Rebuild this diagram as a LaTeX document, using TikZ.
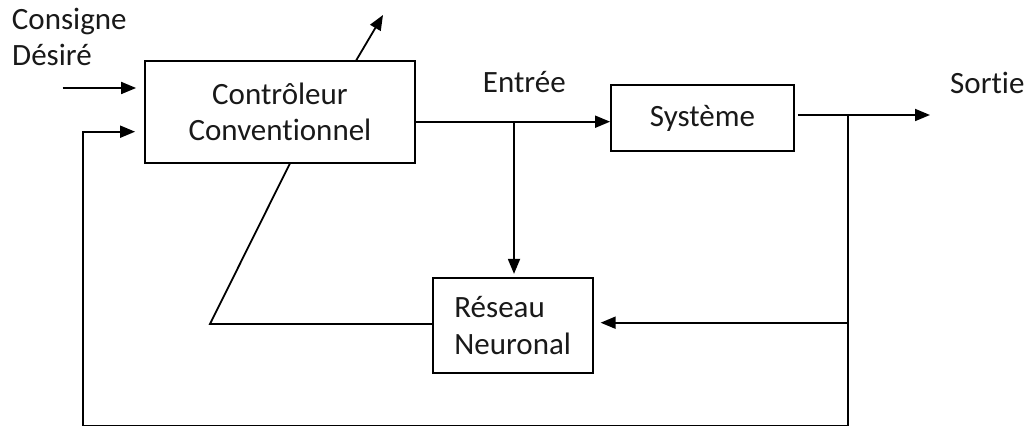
\documentclass[tikz,border=0pt]{standalone}
\usepackage{fontspec}
\setmainfont{Carlito}[Ligatures=NoCommon]
\usetikzlibrary{arrows.meta}
\begin{document}
\begin{tikzpicture}[x=1pt,y=-1pt,
  txt/.style={font=\fontsize{31}{36.5}\selectfont, text=black!90},
  blk/.style={draw, line width=1.8pt, inner sep=0pt, txt},
  wire/.style={line width=1.8pt},
  arr/.style={wire, -{Triangle[length=15pt,width=12pt]}},
  lbl/.style={txt, inner sep=0pt, anchor=base west}]
\useasboundingbox (0,0) rectangle (1028,427);

% blocks
\node[blk, minimum width=270pt, minimum height=102pt, align=center] (ctrl) at (280,112) {Contrôleur\\Conventionnel};
\node[blk, minimum width=183pt, minimum height=66pt] (sys) at (702.5,118) {Système};
\node[blk, minimum width=160pt, minimum height=95pt, align=left] (nn) at (512.7,325.3) {Réseau\\Neuronal};

% labels
\node[lbl] (cons) at (11.7,30) {Consigne};
\node[lbl] (des) at (12,66) {Désiré};
\node[lbl] (ent) at (482.7,93) {Entrée};
\node[lbl] (sor) at (950,94) {Sortie};

% reference points of the wiring
\coordinate (in) at (62.7,88);
\coordinate (fbUp) at (82.7,131.7);
\coordinate (fbL) at (82.7,425.5);
\coordinate (fbR) at (848.3,425.5);
\coordinate (u) at (514,121.7);
\coordinate (y) at (848.3,115);
\coordinate (out) at (930,115);
\coordinate (yn) at (848.3,322.7);
\coordinate (a1) at (290,163.3);
\coordinate (a2) at (210,324);
\coordinate (a3) at (356,60.7);
\coordinate (a4) at (383,15);

% signal flow
\draw[arr, shorten >=8pt] (in) -- (ctrl.west |- in);
\draw[arr, shorten >=9pt] (fbR) -- (fbL) -- (fbUp) -- (ctrl.west |- fbUp);
\draw[arr] (ctrl.east |- u) -- (sys.west |- u);
\draw[arr, shorten >=3pt] (u) -- (nn.north -| u);
\draw[arr] ([xshift=3pt]sys.east |- y) -- (out);
\draw[wire] (y) -- (fbR);
\draw[arr, shorten >=7pt] (yn) -- (nn.east |- yn);

% adaptation path of the controller
\draw[wire] (a1) -- (a2) -- (nn.west |- a2);
\draw[arr] (a3) -- (a4);
\end{tikzpicture}
\end{document}
